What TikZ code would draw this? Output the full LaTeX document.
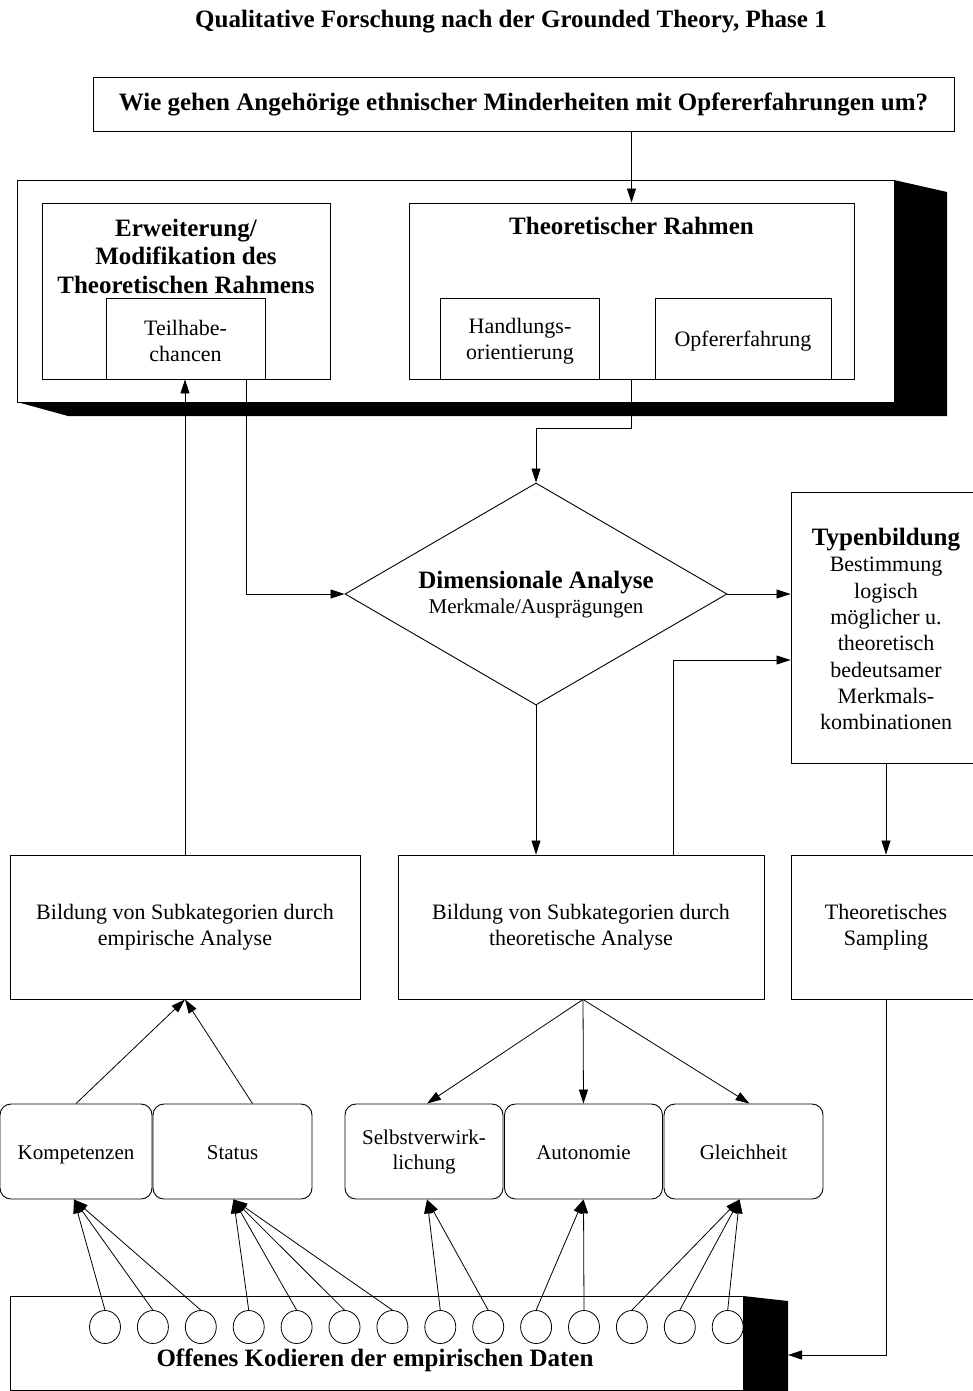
\documentclass[tikz,border=0pt]{standalone}
\usepackage{fontspec}
\setmainfont{Liberation Serif}
\usetikzlibrary{arrows.meta,shapes.geometric,calc}
\tikzset{
  box/.style={draw, line width=0.9pt, align=center, inner sep=0pt, font=\fontsize{22}{26.4}\selectfont},
  rbox/.style={box, rounded corners=11pt, font=\fontsize{21}{25}\selectfont},
  oneline/.style={text height=15pt, text depth=0pt},
  ctext/.style={align=center, inner sep=0pt},
  bld/.style={font=\bfseries\fontsize{25}{28.5}\selectfont},
  reg/.style={font=\fontsize{22}{26.3}\selectfont},
  arr/.style={-{Triangle[length=14pt,width=9pt]}, line width=0.8pt},
  shade/.style={fill=black, draw=none},
  blob/.style={draw, ellipse, line width=0.8pt, minimum width=31pt, minimum height=33pt, inner sep=0pt},
}
\begin{document}
\begin{tikzpicture}[x=1pt, y=-1pt]
\useasboundingbox (0,0) rectangle (972,1391);

% title
\node[ctext, bld] (title) at (511,22) {Qualitative Forschung nach der Grounded Theory, Phase 1};

% question
\node[box, bld, minimum width=861pt, minimum height=54pt] (question) at (523.5,104) {Wie gehen Angehörige ethnischer Minderheiten mit Opfererfahrungen um?};

% big frame with shadow
\fill[shade] (894,180) -- (947,192) -- (947,416) -- (68,416) -- (17,402) -- (894,402) -- cycle;
\node[box, minimum width=877pt, minimum height=222pt] (frame) at (455.5,291) {};

\node[box, minimum width=288pt, minimum height=176pt] (erw) at (186,291) {};
\node[ctext, bld] (erwtext) at (186,256) {Erweiterung/\\Modifikation des\\Theoretischen Rahmens};
\node[box, minimum width=159pt, minimum height=81pt] (teil) at (185.5,338.5) {};
\node[ctext, reg] (teiltext) at (185.5,341) {Teilhabe-\\chancen};

\node[box, minimum width=445pt, minimum height=176pt] (theo) at (631.5,291) {};
\node[ctext, bld] (theotext) at (631.5,226) {Theoretischer Rahmen};
\node[box, minimum width=159pt, minimum height=81pt] (hand) at (520,338.5) {};
\node[ctext, reg] (handtext) at (520,341) {Handlungs-\\orientierung};
\node[box, oneline, minimum width=176pt, minimum height=81pt] (opf) at (743,338.5) {Opfererfahrung};

% diamond
\node[draw, diamond, line width=0.9pt, minimum width=382pt, minimum height=222pt, inner sep=0pt] (dia) at (536,594) {};
\node[ctext, bld] (diatext1) at (536,583) {Dimensionale Analyse};
\node[ctext, font=\fontsize{21}{25}\selectfont] (diatext2) at (536,608) {Merkmale/Ausprägungen};

% Typenbildung
\node[box, minimum width=190pt, minimum height=271pt] (typ) at (886,628) {};
\node[ctext, reg] (typtext) at (886,629) {{\bfseries\fontsize{25}{28}\selectfont Typenbildung}\\Bestimmung\\logisch\\möglicher u.\\theoretisch\\bedeutsamer\\Merkmals-\\kombinationen};

% analysis boxes
\node[box, minimum width=350pt, minimum height=144pt] (emp) at (185,927) {Bildung von Subkategorien durch\\empirische Analyse};
\node[box, minimum width=366pt, minimum height=144pt] (tha) at (581,927) {Bildung von Subkategorien durch\\theoretische Analyse};
\node[box, minimum width=190pt, minimum height=144pt] (samp) at (886,927) {Theoretisches\\Sampling};

% categories
\node[rbox, oneline, minimum width=152pt, minimum height=95pt] (komp) at (76,1151.5) {Kompetenzen};
\node[rbox, oneline, minimum width=159pt, minimum height=95pt] (stat) at (232.5,1151.5) {Status};
\node[rbox, minimum width=158pt, minimum height=95pt] (selb) at (424,1151.5) {Selbstverwirk-\\lichung};
\node[rbox, oneline, minimum width=158pt, minimum height=95pt] (auto) at (583.5,1151.5) {Autonomie};
\node[rbox, oneline, minimum width=159pt, minimum height=95pt] (glei) at (743.5,1151.5) {Gleichheit};

% bottom bar with shadow
\fill[shade] (743,1296) -- (788,1301) -- (788,1391) -- (743,1391) -- cycle;
\node[box, minimum width=733pt, minimum height=94pt] (bar) at (376.5,1343) {};
\node[ctext, bld] (bartext) at (375,1360) {Offenes Kodieren der empirischen Daten};
\coordinate (barin) at (788,1355);

\foreach \i in {0,...,13} {
  \node[blob] (c\i) at ({105+47.9*\i},1327) {};
}

% connectors
\draw[arr] (question.south -| theo.north) -- (theo.north);
\draw[arr] (emp.north) -- (emp.north |- teil.south);
\draw[arr] ([xshift=60.5pt]teil.south) |- (dia.west);
\draw[arr] (theo.south) -- ++(0,49) -| (dia.north);
\draw[arr] (dia.east) -- (dia.east -| typ.west);
\draw[arr] ($(tha.north)+(92,0)$) |- ($(typ.west)+(0,32)$);
\draw[arr] (dia.south) -- (dia.south |- tha.north);
\draw[arr] (typ.south) -- (samp.north);
\draw[arr] (samp.south) |- (barin);

\draw[arr] ($(tha.south)+(2,0)$) -- ($(selb.north)+(3,0)$);
\draw[arr] ($(tha.south)+(2,0)$) -- (auto.north);
\draw[arr] ($(tha.south)+(2,0)$) -- ($(glei.north)+(6,0)$);

\draw[arr] (komp.north) -- (emp.south);
\draw[arr] ($(stat.north)+(20,0)$) -- (emp.south);

\foreach \i in {0,1,2} { \draw[arr] (c\i.north) -- ($(komp.south)+(-2,0)$); }
\foreach \i in {3,4,5,6} { \draw[arr] (c\i.north) -- ($(stat.south)+(1,0)$); }
\foreach \i in {7,8} { \draw[arr] (c\i.north) -- ($(selb.south)+(3,0)$); }
\foreach \i in {9,10} { \draw[arr] (c\i.north) -- (auto.south); }
\foreach \i in {11,12,13} { \draw[arr] (c\i.north) -- ($(glei.south)+(-4,0)$); }
\end{tikzpicture}
\end{document}
